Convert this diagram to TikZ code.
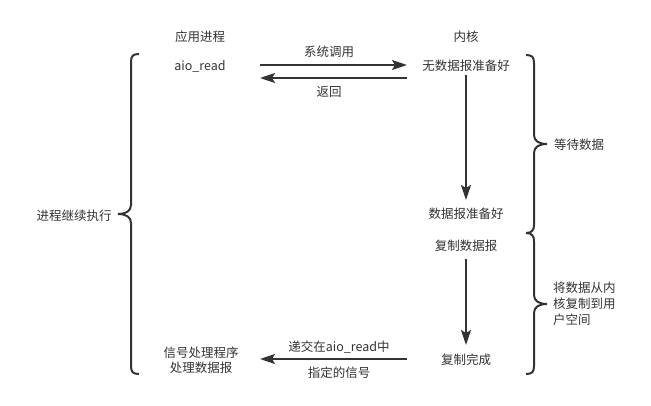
\documentclass[tikz,border=0pt]{standalone}
\usepackage{fontspec}
\setmainfont{Noto Sans CJK SC}
\usetikzlibrary{arrows.meta}
\definecolor{ink}{HTML}{333333}
\begin{document}
\begin{tikzpicture}[x=1pt,y=-1pt,
  lbl/.style={inner sep=0pt,text=ink,font=\fontsize{12.5}{16}\selectfont},
  conn/.style={draw=ink,line width=2pt,-{Stealth[length=15pt,width=10pt,inset=3pt]}},
  brace/.style={draw=ink,line width=2pt}]
\useasboundingbox (0,0) rectangle (651,406);
% texts
\node[lbl] (app) at (200,37) {应用进程};
\node[lbl] (kern) at (466,37) {内核};
\node[lbl] (aio) at (200,66) {aio\_read};
\node[lbl] (nodata) at (466,66) {无数据报准备好};
\node[lbl] (sys) at (329,52) {系统调用};
\node[lbl] (ret) at (329,92) {返回};
\node[lbl] (ready) at (466,214) {数据报准备好};
\node[lbl] (copy) at (466,246) {复制数据报};
\node[lbl] (done) at (466,360) {复制完成};
\node[lbl] (sig1) at (339,347) {递交在aio\_read中};
\node[lbl] (sig2) at (339,373) {指定的信号};
\node[lbl,align=center] (handler) at (201,360) {信号处理程序\\[-1pt]处理数据报};
\node[lbl] (cont) at (74,216) {进程继续执行};
\node[lbl] (wait) at (579,145) {等待数据};
\node[lbl,align=left,anchor=west] (copyk) at (553,304) {将数据从内\\[0pt]核复制到用\\[0pt]户空间};
% arrow endpoints
\coordinate (c1s) at (260,65);
\coordinate (c1e) at (407,65);
\coordinate (c2s) at (407,78);
\coordinate (c2e) at (260,78);
\coordinate (v1s) at (466,75);
\coordinate (v1e) at (466,200);
\coordinate (v2s) at (466,259);
\coordinate (v2e) at (466,345);
\coordinate (b1s) at (407,359);
\coordinate (b1e) at (260,359);
\draw[conn] (c1s) -- (c1e);
\draw[conn] (c2s) -- (c2e);
\draw[conn] (v1s) -- (v1e);
\draw[conn] (v2s) -- (v2e);
\draw[conn] (b1s) -- (b1e);
% left brace
\draw[brace] (139,54) .. controls (133,54) and (131,56) .. (131,62) -- (131,205)
  .. controls (131,211) and (126,214) .. (118,214)
  .. controls (126,214) and (131,217) .. (131,223) -- (131,366)
  .. controls (131,372) and (133,374) .. (139,374);
% right brace 1
\draw[brace] (526,55) .. controls (532,55) and (534,57) .. (534,63) -- (534,135)
  .. controls (534,141) and (539,144) .. (547,144)
  .. controls (539,144) and (534,147) .. (534,153) -- (534,225)
  .. controls (534,230) and (532,233) .. (526,233);
% right brace 2
\draw[brace] (526,233) .. controls (532,233) and (534,236) .. (534,241) -- (534,295)
  .. controls (534,301) and (539,304) .. (547,304)
  .. controls (539,304) and (534,307) .. (534,313) -- (534,366)
  .. controls (534,372) and (532,374) .. (526,374);
\end{tikzpicture}
\end{document}
